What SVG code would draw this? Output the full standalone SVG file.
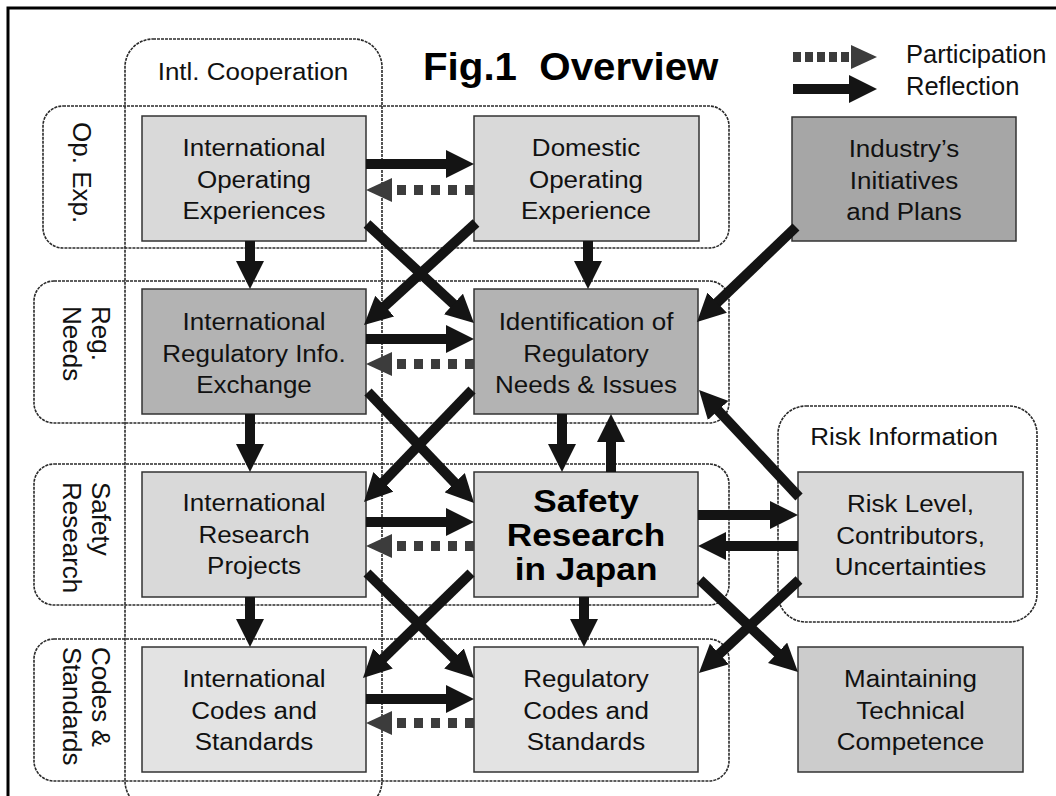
<svg xmlns="http://www.w3.org/2000/svg" width="1056" height="796" viewBox="0 0 1056 796">
<style>
.grp{fill:none;stroke:#2a2a2a;stroke-width:1.6;stroke-dasharray:3 1}
.box{stroke:#333;stroke-width:1.5}
.lt{fill:#d9d9d9}.dk{fill:#b3b3b3}.dk2{fill:#a6a6a6}.md{fill:#cccccc}.vl{fill:#e3e3e3}
.t{font-family:"Liberation Sans",Arial,sans-serif;font-size:23px;fill:#111;text-anchor:middle}
.tb{font-family:"Liberation Sans",Arial,sans-serif;font-size:32px;font-weight:bold;fill:#000;text-anchor:middle}
.rl{font-family:"Liberation Sans",Arial,sans-serif;font-size:26px;fill:#111}
.lg{font-family:"Liberation Sans",Arial,sans-serif;font-size:25.5px;fill:#111}
.ttl{font-family:"Liberation Sans",Arial,sans-serif;font-size:38px;font-weight:bold;fill:#000}
.sol{fill:none;stroke:#141414;stroke-width:10;marker-end:url(#ah)}
.dsh{fill:none;stroke:#3c3c3c;stroke-width:10;stroke-dasharray:9 8;marker-end:url(#dh)}
</style>
<defs>
<marker id="ah" viewBox="0 0 28 28" refX="8" refY="14" markerWidth="28" markerHeight="28" markerUnits="userSpaceOnUse" orient="auto"><path d="M0,0 L28,14 L0,28 z" fill="#141414"/></marker>
<marker id="dh" viewBox="0 0 26 24" refX="6" refY="12" markerWidth="26" markerHeight="24" markerUnits="userSpaceOnUse" orient="auto"><path d="M0,0 L26,12 L0,24 z" fill="#3c3c3c"/></marker>
</defs>
<rect width="1056" height="796" fill="#fff"/>
<path d="M8,796 V8 H1056" fill="none" stroke="#000" stroke-width="3"/>

<g id="title">
<text class="ttl" transform="translate(423,80) scale(1.06,1)">Fig.1&#160; Overview</text>
</g>

<g id="legend">
<line class="dsh" x1="793" y1="57" x2="857" y2="57" style="stroke-dasharray:8 4"/>
<line class="sol" x1="793" y1="89" x2="857" y2="89"/>
<text class="lg" x="906" y="63">Participation</text>
<text class="lg" x="906" y="95">Reflection</text>
</g>

<g id="groups">
<g id="grp-intl">
<rect class="grp" x="125" y="39" width="257" height="770" rx="28"/>
<text class="t" transform="translate(253,80) scale(1.13,1)">Intl. Cooperation</text>
</g>
<g id="grp-opexp">
<rect class="grp" x="43" y="106" width="686" height="142" rx="20"/>
<text class="rl" transform="translate(73,122) rotate(90)">Op. Exp.</text>
</g>
<g id="grp-regneeds">
<rect class="grp" x="34" y="281" width="695" height="142" rx="20"/>
<text class="rl" transform="translate(92,306) rotate(90)">Reg.</text>
<text class="rl" transform="translate(63,306) rotate(90)">Needs</text>
</g>
<g id="grp-safety">
<rect class="grp" x="34" y="464" width="695" height="141" rx="20"/>
<text class="rl" transform="translate(92,482) rotate(90)">Safety</text>
<text class="rl" transform="translate(63,482) rotate(90)">Research</text>
</g>
<g id="grp-codes">
<rect class="grp" x="34" y="639" width="695" height="142" rx="20"/>
<text class="rl" transform="translate(92,647) rotate(90)">Codes &amp;</text>
<text class="rl" transform="translate(63,647) rotate(90)">Standards</text>
</g>
<g id="grp-risk">
<rect class="grp" x="778" y="406" width="259" height="216" rx="28"/>
<text class="t" transform="translate(904,445) scale(1.13,1)">Risk Information</text>
</g>
</g>

<g id="n-intl-opexp">
<rect class="box lt" x="142" y="116" width="224" height="125"/>
<text class="t" transform="translate(254,156) scale(1.13,1)">International</text>
<text class="t" transform="translate(254,187.5) scale(1.13,1)">Operating</text>
<text class="t" transform="translate(254,219) scale(1.13,1)">Experiences</text>
</g>
<g id="n-dom-opexp">
<rect class="box lt" x="474" y="116" width="225" height="125"/>
<text class="t" transform="translate(586,156) scale(1.13,1)">Domestic</text>
<text class="t" transform="translate(586,187.5) scale(1.13,1)">Operating</text>
<text class="t" transform="translate(586,219) scale(1.13,1)">Experience</text>
</g>
<g id="n-industry">
<rect class="box dk2" x="792" y="117" width="224" height="124"/>
<text class="t" transform="translate(904,157) scale(1.13,1)">Industry’s</text>
<text class="t" transform="translate(904,188.5) scale(1.13,1)">Initiatives</text>
<text class="t" transform="translate(904,220) scale(1.13,1)">and Plans</text>
</g>
<g id="n-intl-reginfo">
<rect class="box dk" x="142" y="289" width="224" height="125"/>
<text class="t" transform="translate(254,330) scale(1.13,1)">International</text>
<text class="t" transform="translate(254,361.5) scale(1.13,1)">Regulatory Info.</text>
<text class="t" transform="translate(254,393) scale(1.13,1)">Exchange</text>
</g>
<g id="n-ident">
<rect class="box dk" x="474" y="289" width="224" height="125"/>
<text class="t" transform="translate(586,330) scale(1.13,1)">Identification of</text>
<text class="t" transform="translate(586,361.5) scale(1.13,1)">Regulatory</text>
<text class="t" transform="translate(586,393) scale(1.13,1)">Needs &amp; Issues</text>
</g>
<g id="n-intl-research">
<rect class="box lt" x="142" y="472" width="224" height="125"/>
<text class="t" transform="translate(254,511) scale(1.13,1)">International</text>
<text class="t" transform="translate(254,542.5) scale(1.13,1)">Research</text>
<text class="t" transform="translate(254,574) scale(1.13,1)">Projects</text>
</g>
<g id="n-safety">
<rect class="box lt" x="474" y="472" width="224" height="125"/>
<text class="tb" transform="translate(586,512) scale(1.1,1)">Safety</text>
<text class="tb" transform="translate(586,546) scale(1.1,1)">Research</text>
<text class="tb" transform="translate(586,580) scale(1.1,1)">in Japan</text>
</g>
<g id="n-risk">
<rect class="box lt" x="798" y="472" width="225" height="125"/>
<text class="t" transform="translate(910.5,512) scale(1.13,1)">Risk Level,</text>
<text class="t" transform="translate(910.5,543.5) scale(1.13,1)">Contributors,</text>
<text class="t" transform="translate(910.5,575) scale(1.13,1)">Uncertainties</text>
</g>
<g id="n-intl-codes">
<rect class="box vl" x="142" y="647" width="224" height="125"/>
<text class="t" transform="translate(254,687) scale(1.13,1)">International</text>
<text class="t" transform="translate(254,718.5) scale(1.13,1)">Codes and</text>
<text class="t" transform="translate(254,750) scale(1.13,1)">Standards</text>
</g>
<g id="n-reg-codes">
<rect class="box vl" x="474" y="647" width="224" height="125"/>
<text class="t" transform="translate(586,687) scale(1.13,1)">Regulatory</text>
<text class="t" transform="translate(586,718.5) scale(1.13,1)">Codes and</text>
<text class="t" transform="translate(586,750) scale(1.13,1)">Standards</text>
</g>
<g id="n-maintain">
<rect class="box md" x="798" y="647" width="225" height="125"/>
<text class="t" transform="translate(910.5,687) scale(1.13,1)">Maintaining</text>
<text class="t" transform="translate(910.5,718.5) scale(1.13,1)">Technical</text>
<text class="t" transform="translate(910.5,750) scale(1.13,1)">Competence</text>
</g>

<g id="connectors">
<line class="sol" x1="366" y1="164" x2="454" y2="164"/>
<line class="dsh" x1="474" y1="190" x2="386" y2="190"/>
<line class="sol" x1="250" y1="241" x2="250" y2="269"/>
<line class="sol" x1="588" y1="241" x2="588" y2="269"/>
<line class="sol" x1="367" y1="224" x2="459.3" y2="309.4"/>
<line class="sol" x1="476" y1="223" x2="378.8" y2="311.5"/>
<line class="sol" x1="796" y1="227" x2="711.4" y2="308.2"/>
<line class="sol" x1="366" y1="339" x2="454" y2="339"/>
<line class="dsh" x1="474" y1="364" x2="386" y2="364"/>
<line class="sol" x1="250" y1="414" x2="250" y2="452"/>
<line class="sol" x1="562" y1="414" x2="562" y2="452"/>
<line class="sol" x1="611" y1="472" x2="611" y2="434"/>
<line class="sol" x1="368" y1="392" x2="460.2" y2="488.5"/>
<line class="sol" x1="472" y1="390" x2="377.9" y2="487.6"/>
<line class="sol" x1="799" y1="497" x2="712.7" y2="404.6"/>
<line class="sol" x1="366" y1="522" x2="454" y2="522"/>
<line class="dsh" x1="474" y1="546" x2="386" y2="546"/>
<line class="sol" x1="698" y1="515" x2="778" y2="515"/>
<line class="sol" x1="798" y1="546" x2="718" y2="546"/>
<line class="sol" x1="250" y1="597" x2="250" y2="627"/>
<line class="sol" x1="584" y1="597" x2="584" y2="627"/>
<line class="sol" x1="367" y1="573" x2="459.7" y2="664"/>
<line class="sol" x1="471" y1="573" x2="377.3" y2="664.1"/>
<line class="sol" x1="799" y1="580" x2="713.6" y2="659.4"/>
<line class="sol" x1="700" y1="580" x2="783.4" y2="658.3"/>
<line class="sol" x1="366" y1="699" x2="454" y2="699"/>
<line class="dsh" x1="474" y1="723" x2="386" y2="723"/>
</g>
</svg>
